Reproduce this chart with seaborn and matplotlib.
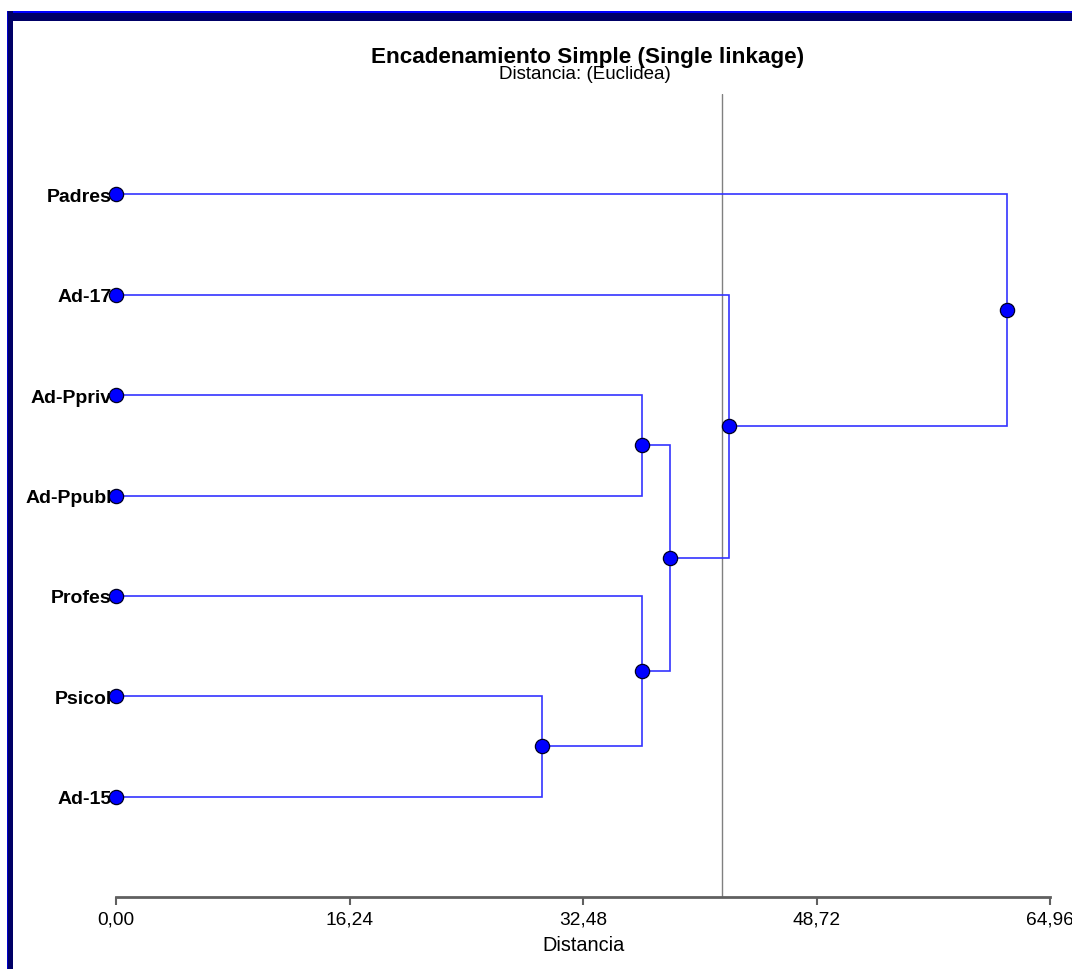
import matplotlib
matplotlib.use("Agg")
import matplotlib.pyplot as plt
from matplotlib.patches import Rectangle
import seaborn as sns
import pandas as pd

# ---- data ----
leaves = ["Ad-15", "Psicol", "Profes", "Ad-Ppubl", "Ad-Ppriv", "Ad-17", "Padres"]  # bottom -> top
# merges: (child a, child b, distance); indices >= len(leaves) refer to earlier merges
merge_a = [1, 4, 2, 8, 5, 6]
merge_b = [0, 3, 7, 9, 10, 11]
merge_h = [29.63, 36.58, 36.58, 38.53, 42.63, 61.97]
cut_value = 42.13
xticks = [0.00, 16.24, 32.48, 48.72, 64.96]
xtick_labels = ["0,00", "16,24", "32,48", "48,72", "64,96"]
title = "Encadenamiento Simple (Single linkage)"
subtitle = "Distancia: (Euclidea)"
xlabel = "Distancia"

sns.set_theme(style="white")
plt.rcParams['font.family'] = ['Liberation Sans', 'DejaVu Sans']
plt.rcParams['text.color'] = 'black'
plt.rcParams['axes.labelcolor'] = 'black'
plt.rcParams['xtick.color'] = 'black'
plt.rcParams['ytick.color'] = 'black'

W, H = 1072, 970
fig = plt.figure(figsize=(W / 100, H / 100), dpi=100)
fig.patch.set_facecolor("white")
ax = fig.add_axes([116 / W, 1 - 898 / H, (1050 - 116) / W, (898 - 95) / H])
ax.set_facecolor("white")

# node coordinates
n = len(leaves)
node_x = [0.0] * n
node_y = list(range(n))
line_col = "#3333ff"
for a, b, h in zip(merge_a, merge_b, merge_h):
    xa, ya = node_x[a], node_y[a]
    xb, yb = node_x[b], node_y[b]
    ax.plot([xa, h, h, xb], [ya, ya, yb, yb], color=line_col, lw=1.2, zorder=2,
            solid_joinstyle="miter")
    node_x.append(h)
    node_y.append((ya + yb) / 2)

ax.axvline(cut_value, color="#808080", lw=1.0, zorder=1)

pts = pd.DataFrame({"x": node_x, "y": node_y})
sns.scatterplot(data=pts, x="x", y="y", ax=ax, s=105, color="#0000ff",
                edgecolor="#000022", linewidth=0.9, zorder=5, clip_on=False)

ax.set_xlim(xticks[0], xticks[-1])
ax.set_ylim(-1, n)
ax.set_xticks(xticks)
ax.set_xticklabels(xtick_labels, fontsize=13.8, color="black")
ax.set_yticks(range(n))
ax.set_yticklabels(leaves, fontsize=14, fontweight="bold", color="black")
ax.tick_params(axis="y", length=0, pad=3, left=False)
ax.tick_params(axis="x", bottom=True, length=6, width=1.5, color="#606060",
               direction="out", pad=4)
for s in ["top", "right", "left"]:
    ax.spines[s].set_visible(False)
ax.spines["bottom"].set_color("#606060")
ax.spines["bottom"].set_linewidth(2)
ax.set_xlabel(xlabel, fontsize=14.3, labelpad=5, color="black")
ax.set_ylabel("")

fig.text(588 / W, 1 - 58 / H, title, ha="center", va="center", fontsize=16.2,
         fontweight="bold", color="black")
fig.text(585 / W, 1 - 75 / H, subtitle, ha="center", va="center", fontsize=13.5,
         color="black")

# frame bars
def px_rect(x0, y0, x1, y1, color):
    fig.patches.append(Rectangle((x0 / W, 1 - y1 / H), (x1 - x0) / W, (y1 - y0) / H,
                                 transform=fig.transFigure, facecolor=color,
                                 edgecolor="none", zorder=0))

px_rect(7, 12, W, 22, "#000066")
px_rect(7, 12, W, 14, "#0000ff")
px_rect(7, 12, 13, H, "#000066")
px_rect(7, 12, 8, H, "#0000cc")

fig.savefig("out.png", dpi=100)
